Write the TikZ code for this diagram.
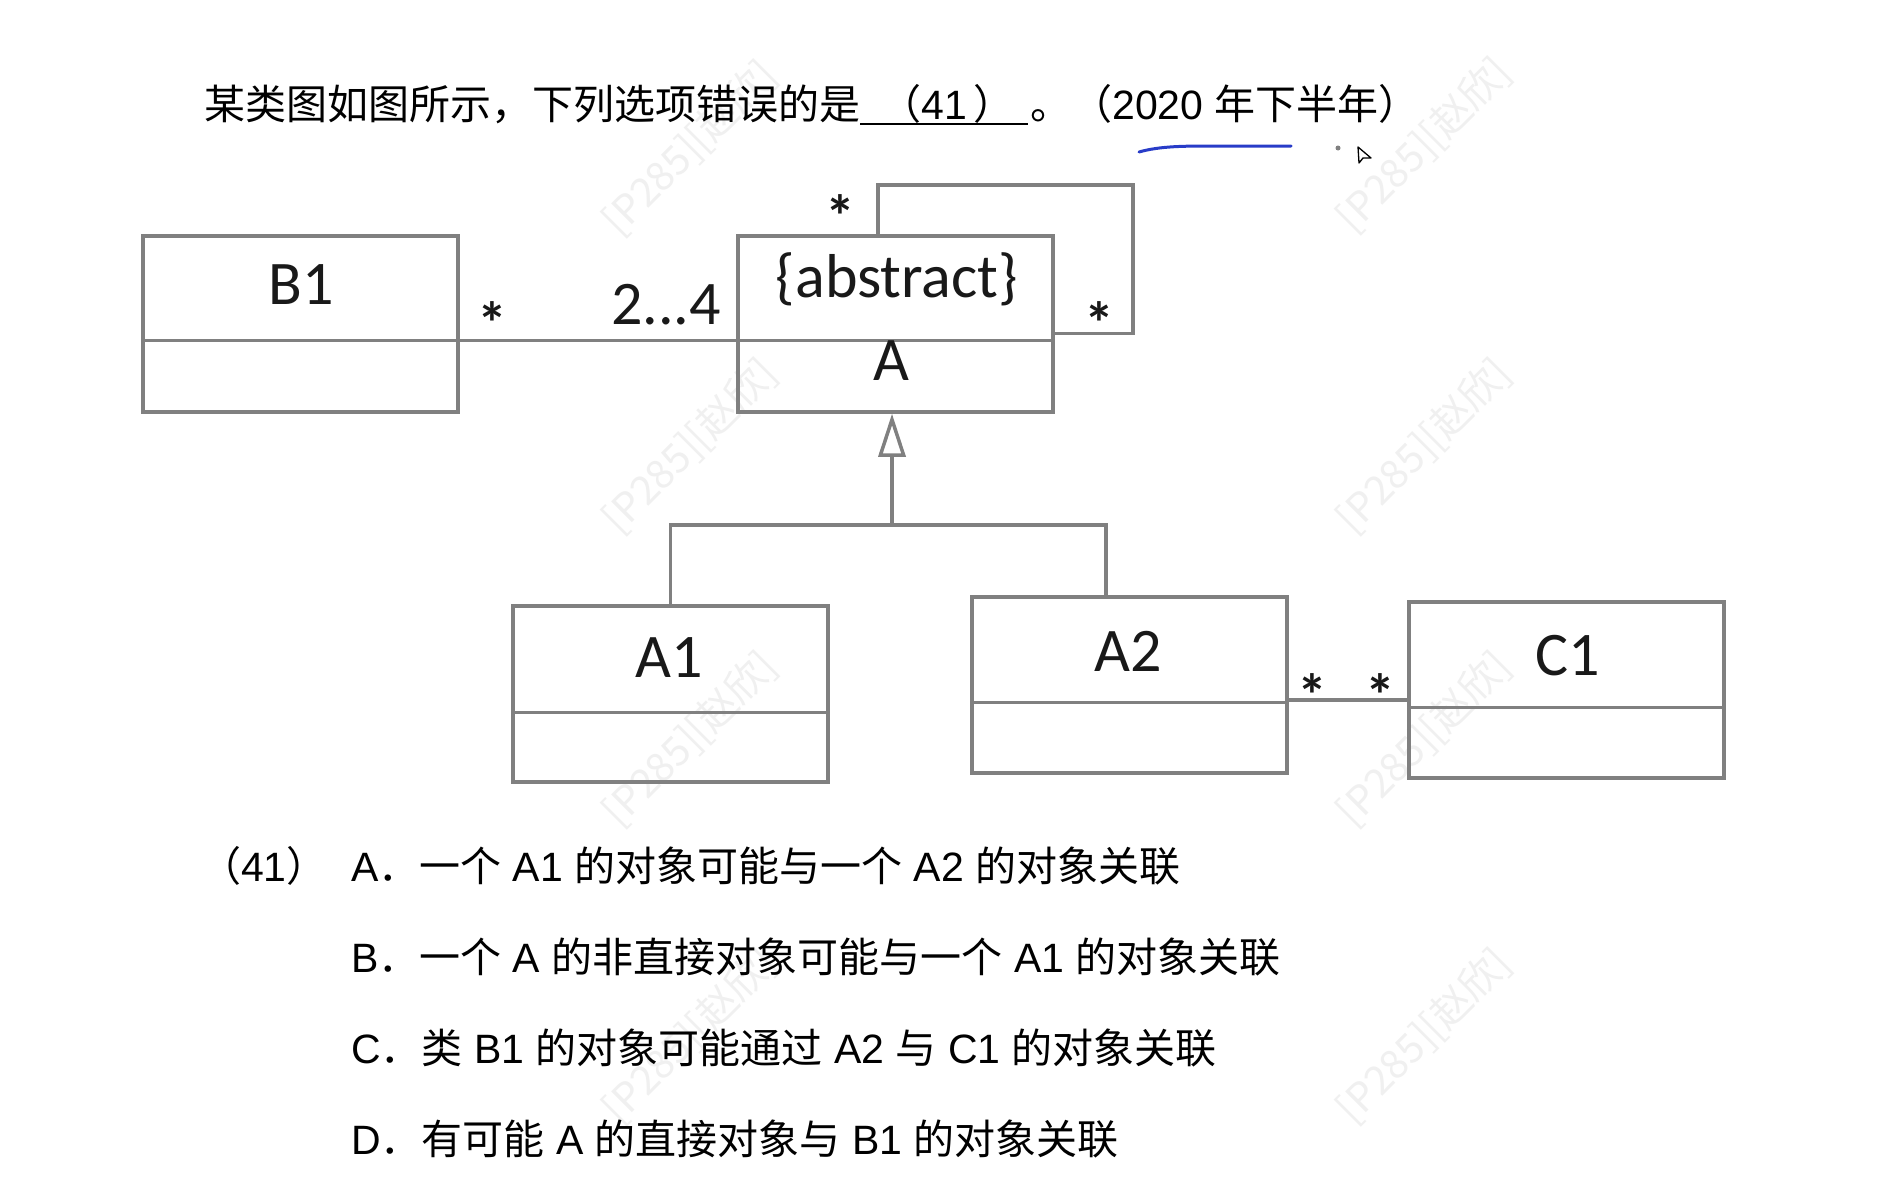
\documentclass[tikz,border=0pt]{standalone}
\usepackage{fontspec}
\setmainfont{Liberation Sans}
\newfontfamily\cjk{Noto Sans CJK SC}
\newfontfamily\umlfont{Carlito}
\usetikzlibrary{arrows.meta}
\newcommand{\zh}[1]{{\cjk #1}}
\definecolor{linegray}{RGB}{128,128,128}
\definecolor{wmgray}{RGB}{240,240,240}
\definecolor{penblue}{RGB}{40,60,200}
\definecolor{textdark}{RGB}{25,25,25}
\begin{document}
\begin{tikzpicture}[x=1pt,y=-1pt,
  umlbox/.style={draw=linegray, line width=3.5pt, minimum width=315pt, minimum height=176pt, inner sep=0pt},
  umlline/.style={draw=linegray, line width=3.5pt},
  umlname/.style={font=\umlfont\fontsize{62}{70}\selectfont, text=textdark, inner sep=0pt},
  mult/.style={font=\umlfont\bfseries\fontsize{60}{66}\selectfont, text=textdark, inner sep=0pt},
  qtext/.style={font=\fontsize{41}{49}\selectfont, anchor=west, inner sep=0pt, text=black},
  wm/.style={font=\cjk\fontsize{40}{44}\selectfont, text=wmgray, rotate=45, inner sep=0pt},
]
\fill[white] (0,0) rectangle (1900,1202);
\useasboundingbox (0,0) rectangle (1900,1202);

% watermarks
\foreach \wx/\wy [count=\i] in {690/148,1424/145,690/446,1424/446,690/739,1424/739,690/1036,1424/1036}
  \node[wm] (wm\i) at (\wx,\wy) {[P285][赵欣]};

% question title
\node[qtext] (title1) at (204,104) {\zh{某类图如图所示，下列选项错误的是}};
\node[qtext] (title2) at (880,104) {\zh{（}41\,\zh{）}};
\node[qtext] (title3) at (1030,104) {\zh{。（}2020 \zh{年下半年）}};
\draw[black, line width=2.5pt] (860,124) -- (1028,124);

% pen annotation and cursor
\draw[penblue, line width=3pt, line cap=round] (1139,152) .. controls (1160,146) and (1185,146) .. (1215,146) -- (1291,146);
\fill[gray] (1338,148) circle (2.5);
\draw[black, line width=1.3pt, fill=white, line join=round] (1358,147) -- (1359,163) -- (1363,158) -- (1371,158) -- cycle;

% classes
\node[umlbox] (B1) at (300.5,324) {};
\node[umlbox] (A) at (895.5,324) {};
\node[umlbox] (A1) at (670.5,694) {};
\node[umlbox] (A2) at (1129.5,685) {};
\node[umlbox] (C1) at (1566.5,690) {};

\draw[umlline] ([yshift=-106pt]B1.north west) -- ([yshift=-106pt]B1.north east);
\draw[umlline] ([yshift=-106pt]A.north west) -- ([yshift=-106pt]A.north east);
\draw[umlline] ([yshift=-108pt]A1.north west) -- ([yshift=-108pt]A1.north east);
\draw[umlline] ([yshift=-107pt]A2.north west) -- ([yshift=-107pt]A2.north east);
\draw[umlline] ([yshift=-107pt]C1.north west) -- ([yshift=-107pt]C1.north east);

\node[umlname] (B1name) at (301,285) {B1};
\node[umlname] (Aster) at (897,279) {\{abstract\}};
\node[umlname] (Aname) at (891,361) {A};
\node[umlname] (A1name) at (669,658) {A1};
\node[umlname] (A2name) at (1128,651) {A2};
\node[umlname] (C1name) at (1568,656) {C1};

% association B1 - A
\draw[umlline] ([yshift=-106pt]B1.north east) -- ([yshift=-106pt]A.north west);
\node[mult] (mB1) at (492,323) {*};
\node[umlname] (mA) at (666,305) {2...4};

% self association on A
\coordinate (selfc) at (1133,185);
\draw[umlline] ([xshift=-17.5pt]A.north) |- (selfc) |- ([yshift=-9.5pt]A.east);
\node[mult] (mS1) at (840,216) {*};
\node[mult] (mS2) at (1099,323) {*};

% generalization
\coordinate (gj) at (892,525);
\draw[umlline] (A1.north) |- (gj) -| ([xshift=-23.5pt]A2.north);
\draw[umlline, -{Triangle[open, length=43pt, width=27pt, fill=white]}] (gj) -- (gj |- A.south);

% association A2 - C1
\draw[umlline] ([yshift=-15pt]A2.east) -- ([yshift=-15pt]A2.east -| C1.west);
\node[mult] (mA2) at (1312,695) {*};
\node[mult] (mC1) at (1380,695) {*};

% options
\node[qtext] (q41) at (200,866) {\zh{（}41\zh{）}};
\node[qtext] (optA) at (351,866) {A\zh{．一个} A1 \zh{的对象可能与一个} A2 \zh{的对象关联}};
\node[qtext] (optB) at (351,957) {B\zh{．一个} A \zh{的非直接对象可能与一个} A1 \zh{的对象关联}};
\node[qtext] (optC) at (351,1048) {C\zh{．类} B1 \zh{的对象可能通过} A2 \zh{与} C1 \zh{的对象关联}};
\node[qtext] (optD) at (351,1139) {D\zh{．有可能} A \zh{的直接对象与} B1 \zh{的对象关联}};
\end{tikzpicture}
\end{document}
